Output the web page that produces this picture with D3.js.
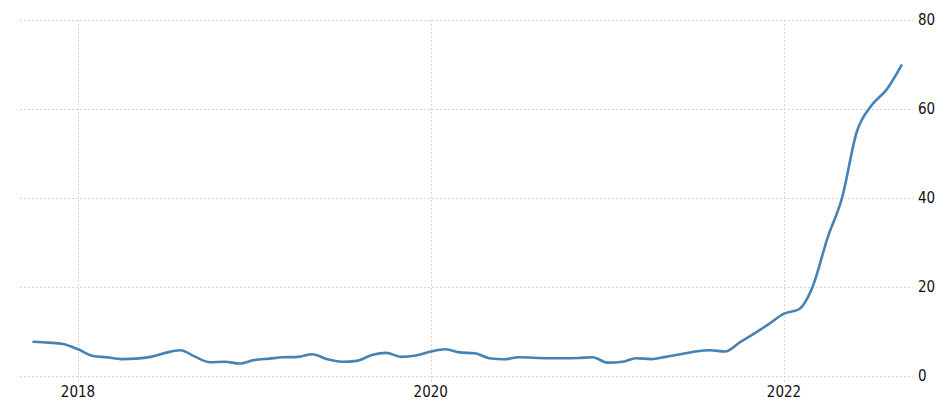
<!DOCTYPE html>
<html>
<head>
<meta charset="utf-8">
<script src="https://cdn.jsdelivr.net/npm/d3@7"></script>
<style>
  html, body { margin: 0; padding: 0; background: #fff; }
  svg { display: block; }
  text { font-family: "DejaVu Sans Condensed", "Liberation Sans", Arial, sans-serif; font-size: 15px; fill: #111; }
</style>
</head>
<body>
<svg id="chart" width="945" height="414"></svg>
<script>
// ---- data ----
const startMonth = "2017-10";
const values = [
  7.7, 7.5, 7.2,
  6.0, 4.5, 4.2, 3.8, 3.9, 4.3, 5.2, 5.8, 4.3, 3.1, 3.2, 2.8,
  3.6, 3.9, 4.2, 4.3, 4.9, 3.75, 3.2, 3.4, 4.7, 5.2, 4.3, 4.6,
  5.5, 6.0, 5.3, 5.1, 4.0, 3.75, 4.2, 4.1, 4.0, 4.0, 4.05, 4.2,
  3.0, 3.2, 4.0, 3.8, 4.3, 4.9, 5.5, 5.8, 5.5, 7.5, 9.6, 11.7,
  14.0, 15.0, 20.0, 31.0, 40.0, 55.0, 60.8, 64.3, 69.8
];
const yTicks = [0, 20, 40, 60, 80];
const xTickYears = ["2018", "2020", "2022"];

// ---- build ----
const parse = d3.timeParse("%Y-%m");
const start = parse(startMonth);
const data = values.map((v, i) => ({ date: d3.timeMonth.offset(start, i), value: v }));
const xTicks = xTickYears.map(y => d3.timeParse("%Y")(y));

const svg = d3.select("#chart");
const x = d3.scaleTime().domain([xTicks[0], xTicks[2]]).range([78, 784]);
const y = d3.scaleLinear().domain([0, 80]).range([376, 20]);

const gridColor = "#d6d6d6";

// horizontal grid
svg.append("g").selectAll("line").data(yTicks).join("line")
  .attr("x1", 20).attr("x2", 913)
  .attr("y1", d => Math.round(y(d)) + 0.5).attr("y2", d => Math.round(y(d)) + 0.5)
  .attr("stroke", gridColor).attr("stroke-width", 1).attr("stroke-dasharray", "2,2");

// vertical grid
svg.append("g").selectAll("line").data(xTicks).join("line")
  .attr("x1", d => Math.round(x(d)) + 0.5).attr("x2", d => Math.round(x(d)) + 0.5)
  .attr("y1", 20).attr("y2", 382)
  .attr("stroke", gridColor).attr("stroke-width", 1).attr("stroke-dasharray", "2,2");

// y labels (right)
svg.append("g").selectAll("text").data(yTicks).join("text")
  .attr("x", 918).attr("y", d => y(d))
  .attr("dominant-baseline", "central")
  .text(d => d);

// x labels
svg.append("g").selectAll("text").data(xTicks).join("text")
  .attr("x", d => x(d)).attr("y", 397)
  .attr("text-anchor", "middle")
  .text(d => d3.timeFormat("%Y")(d));

// line
const line = d3.line()
  .x(d => x(d.date))
  .y(d => y(d.value))
  .curve(d3.curveMonotoneX);

svg.append("path").datum(data)
  .attr("d", line)
  .attr("fill", "none")
  .attr("stroke", "#4682b4")
  .attr("stroke-width", 2.6)
  .attr("stroke-linejoin", "round")
  .attr("stroke-linecap", "round");
</script>
</body>
</html>
